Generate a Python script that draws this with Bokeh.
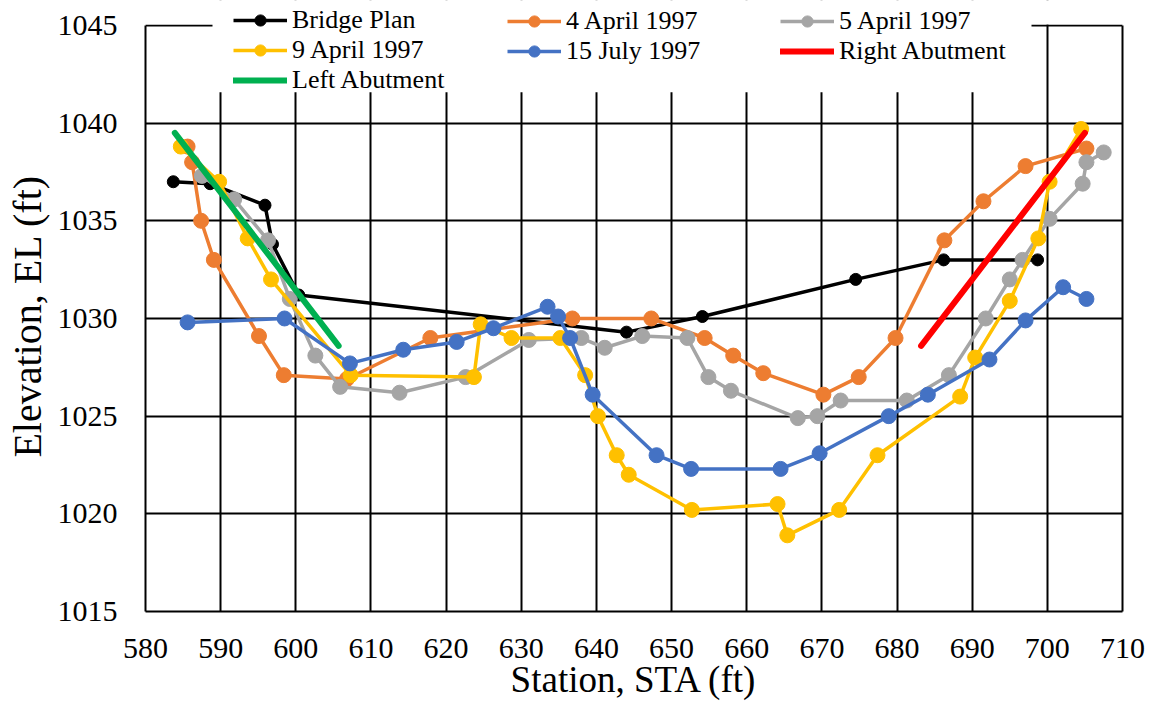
from bokeh.plotting import figure
from bokeh.models import Range1d, FixedTicker, Legend, LegendItem, BoxAnnotation, LinearAxis
from bokeh.embed import file_html
from bokeh.resources import INLINE

# ---- data ----
bridge_x = [583.7, 588.6, 595.9, 596.9, 600.4, 644.0, 654.1, 674.5, 686.2, 698.7]
bridge_y = [1037.0, 1036.9, 1035.8, 1033.8, 1031.2, 1029.3, 1030.1, 1032.0, 1033.0, 1033.0]

apr4_x = [585.6, 586.2, 587.4, 589.1, 595.1, 598.4, 606.8, 617.9, 636.8, 647.3, 654.4,
          658.2, 662.2, 670.2, 674.9, 679.8, 686.3, 691.5, 697.1, 705.2]
apr4_y = [1038.8, 1038.0, 1035.0, 1033.0, 1029.1, 1027.1, 1026.9, 1029.0, 1030.0, 1030.0, 1029.0,
          1028.1, 1027.2, 1026.1, 1027.0, 1029.0, 1034.0, 1036.0, 1037.8, 1038.7]

apr5_x = [587.5, 591.8, 596.3, 599.2, 602.6, 605.9, 613.8, 622.6, 631.0, 638.0, 641.1, 646.1,
          652.1, 654.9, 657.9, 666.8, 669.4, 672.5, 681.3, 686.9, 691.8, 695.0, 696.7, 700.3,
          704.7, 705.2, 707.5]
apr5_y = [1037.3, 1036.1, 1034.0, 1031.0, 1028.1, 1026.5, 1026.2, 1027.0, 1028.9, 1029.0, 1028.5, 1029.1,
          1029.0, 1027.0, 1026.3, 1024.9, 1025.0, 1025.8, 1025.8, 1027.1, 1030.0, 1032.0, 1033.0, 1035.1,
          1036.9, 1038.0, 1038.5]

apr9_x = [584.7, 589.8, 593.6, 596.7, 607.3, 623.7, 624.6, 628.7, 635.2, 638.5, 640.2, 642.7,
          644.3, 652.7, 664.1, 665.4, 672.3, 677.4, 688.4, 690.4, 695.0, 698.8, 700.3, 704.5]
apr9_y = [1038.8, 1037.0, 1034.1, 1032.0, 1027.1, 1027.0, 1029.7, 1029.0, 1029.0, 1027.1, 1025.0, 1023.0,
          1022.0, 1020.2, 1020.5, 1018.9, 1020.2, 1023.0, 1026.0, 1028.0, 1030.9, 1034.1, 1037.0, 1039.7]

jul15_x = [585.6, 598.5, 607.2, 614.3, 621.4, 626.3, 633.5, 634.9, 636.5, 639.5, 648.0, 652.6,
           664.5, 669.7, 678.9, 684.1, 692.3, 697.1, 702.1, 705.2]
jul15_y = [1029.8, 1030.0, 1027.7, 1028.4, 1028.8, 1029.5, 1030.6, 1030.1, 1029.0, 1026.1, 1023.0, 1022.3,
           1022.3, 1023.1, 1025.0, 1026.1, 1027.9, 1029.9, 1031.6, 1031.0]

right_abut_x = [683.2, 705.0]
right_abut_y = [1028.6, 1039.5]
left_abut_x = [583.9, 605.7]
left_abut_y = [1039.5, 1028.6]

x_ticks = list(range(580, 711, 10))
y_ticks = list(range(1015, 1046, 5))
X0, X1 = 580, 710
Y0, Y1 = 1015, 1045

FONT = "Liberation Serif"
NBSP = "\u00a0"

W, H = 1151, 702
# plot box in pixels (from the reference)
BOX_L, BOX_R, BOX_T, BOX_B = 145, 1122, 25, 612
px_x = (BOX_R - BOX_L) / (X1 - X0)
px_y = (BOX_B - BOX_T) / (Y1 - Y0)
# frame extends up to the canvas top so the legend (which overlaps the top border) is not clipped
y_end = Y1 + BOX_T / px_y

p = figure(width=W, height=H, output_backend="svg", toolbar_location=None,
           x_range=Range1d(X0, X1), y_range=Range1d(Y0, y_end),
           min_border_left=BOX_L, min_border_right=W - BOX_R, min_border_top=0,
           min_border_bottom=H - BOX_B)

p.outline_line_alpha = 0
p.background_fill_color = "white"
p.border_fill_color = "white"

for ax in (p.xaxis[0], p.yaxis[0]):
    ax.axis_line_color = "black"
    ax.axis_line_width = 2
    ax.major_tick_out = 0
    ax.major_tick_in = 0
    ax.minor_tick_out = 0
    ax.minor_tick_in = 0
    ax.major_label_text_font = FONT
    ax.major_label_text_font_size = "30px"
    ax.major_label_text_color = "black"
    ax.axis_label_text_font = FONT
    ax.axis_label_text_font_style = "normal"
    ax.axis_label_text_color = "black"
p.xaxis[0].bounds = (X0, X1)
p.yaxis[0].bounds = (Y0, Y1)
p.xaxis[0].ticker = FixedTicker(ticks=x_ticks)
p.yaxis[0].ticker = FixedTicker(ticks=y_ticks)
p.xaxis[0].major_label_standoff = 27
p.yaxis[0].major_label_standoff = 28
p.xaxis[0].axis_label = "Station, STA (ft)"
p.xaxis[0].axis_label_text_font_size = "37px"
p.xaxis[0].axis_label_standoff = -2
p.yaxis[0].axis_label = "Elevation, EL (ft)" + NBSP * 2
p.yaxis[0].axis_label_text_font_size = "40px"
p.yaxis[0].axis_label_standoff = 5

# right border of the plot box
rax = LinearAxis(ticker=FixedTicker(ticks=[]), bounds=(Y0, Y1), axis_line_color="black",
                 axis_line_width=2, major_tick_out=0, major_tick_in=0, minor_tick_out=0,
                 minor_tick_in=0, major_label_text_alpha=0, major_label_standoff=0)
p.add_layout(rax, "right")

for g in (p.xgrid[0], p.ygrid[0]):
    g.grid_line_color = "black"
    g.grid_line_width = 2
    g.grid_line_alpha = 1.0
p.xgrid[0].ticker = FixedTicker(ticks=x_ticks)
p.ygrid[0].ticker = FixedTicker(ticks=y_ticks)

series = [
    ("Bridge Plan", bridge_x, bridge_y, "black", 12),
    ("4 April 1997", apr4_x, apr4_y, "#ED7D31", 15),
    ("5 April 1997", apr5_x, apr5_y, "#A5A5A5", 15),
    ("9 April 1997", apr9_x, apr9_y, "#FFC000", 15),
    ("15 July 1997", jul15_x, jul15_y, "#4472C4", 15),
]
items = {}
for name, xs, ys, col, sz in series:
    r1 = p.line(xs, ys, line_color=col, line_width=3.5)
    r2 = p.scatter(xs, ys, marker="circle", size=sz, fill_color=col, line_color=col)
    items[name] = [r1, r2]

r_red = p.line(right_abut_x, right_abut_y, line_color="#FF0000", line_width=6, line_cap="round")
r_green = p.line(left_abut_x, left_abut_y, line_color="#00B050", line_width=6, line_cap="round")
items["Right Abutment"] = [r_red]
items["Left Abutment"] = [r_green]

# white cover above the top border (hides grid lines there)
p.add_layout(BoxAnnotation(bottom=Y1 + 1.0 / px_y, fill_color="white", fill_alpha=1.0,
                           line_alpha=0, level="annotation"))
# white box behind the legend
p.add_layout(BoxAnnotation(left=X0 + (212 - BOX_L) / px_x, right=X0 + (1031 - BOX_L) / px_x,
                           bottom=Y1 - (92 - BOX_T) / px_y,
                           fill_color="white", fill_alpha=1.0, line_alpha=0, level="annotation"))

ROW = 29.5
TOP = 7.6
columns = [
    (["Bridge Plan", "9 April 1997", "Left Abutment"], 233),
    (["4 April 1997", "15 July 1997"], 507),
    (["5 April 1997", "Right Abutment"], 780),
]
for names, xpix in columns:
    leg_h = len(names) * ROW
    leg = Legend(items=[LegendItem(label=nm, renderers=items[nm]) for nm in names],
                 location=(xpix - BOX_L, BOX_B - (TOP + leg_h)),
                 orientation="vertical",
                 glyph_width=54, glyph_height=28, label_height=28, spacing=0,
                 label_standoff=5, padding=0, margin=0,
                 border_line_alpha=0, background_fill_alpha=0,
                 label_text_font=FONT, label_text_font_size="26px", label_text_color="black")
    p.add_layout(leg, "center")

open("out.html", "w").write(file_html(p, INLINE))
